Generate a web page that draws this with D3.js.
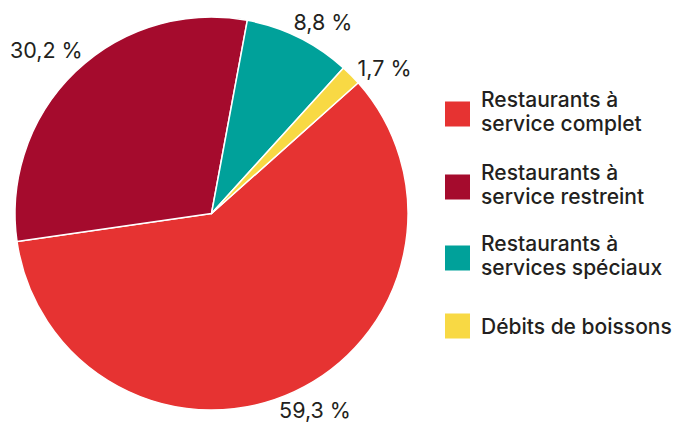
<!DOCTYPE html>
<html>
<head>
<meta charset="utf-8">
<script src="https://cdn.jsdelivr.net/npm/d3@7"></script>
<style>
  html, body { margin: 0; padding: 0; background: #fff; }
  svg text { font-family: Inter, "Noto Sans", sans-serif; fill: #231f20; }
</style>
</head>
<body>
<div id="chart"></div>
<script>
const categories = [
  ["Restaurants à", "service complet"],
  ["Restaurants à", "service restreint"],
  ["Restaurants à", "services spéciaux"],
  ["Débits de boissons"]
];
const values = [59.3, 30.2, 8.8, 1.7];
const valueLabels = ["59,3 %", "30,2 %", "8,8 %", "1,7 %"];
const colors = ["#e63332", "#a50b2d", "#00a19a", "#f8d944"];

const width = 675;
const height = 422;

const svg = d3
  .select("#chart")
  .append("svg")
  .attr("width", width)
  .attr("height", height)
  .attr("viewBox", [0, 0, width, height]);

const cx = 211.5;
const cy = 213.5;
const radius = 196.5;

// red slice ends at the left side, just below horizontal
const startAngle = (48.3 * Math.PI) / 180;

const pie = d3
  .pie()
  .sort(null)
  .value((d) => d)
  .startAngle(startAngle)
  .endAngle(startAngle + 2 * Math.PI);

const arcs = pie(values);

const arc = d3.arc().innerRadius(0).outerRadius(radius);
const labelArc = d3.arc().innerRadius(224).outerRadius(224);

// small tweaks so labels sit where the original has them
const labelShift = [
  [9, -7],
  [-10, -2],
  [12, 9],
  [14, 12]
];

const g = svg.append("g").attr("transform", `translate(${cx},${cy})`);

g.selectAll("path")
  .data(arcs)
  .enter()
  .append("path")
  .attr("d", arc)
  .attr("fill", (d, i) => colors[i])
  .attr("stroke", "#fff")
  .attr("stroke-width", 1.5)
  .attr("stroke-linejoin", "round");

g.selectAll("text.value")
  .data(arcs)
  .enter()
  .append("text")
  .attr("class", "value")
  .attr("x", (d, i) => labelArc.centroid(d)[0] + labelShift[i][0])
  .attr("y", (d, i) => labelArc.centroid(d)[1] + labelShift[i][1])
  .attr("text-anchor", "middle")
  .attr("dominant-baseline", "central")
  .attr("font-size", 21.5)
  .text((d, i) => valueLabels[i]);

// --- Legend ---
const legendRows = [114, 187, 258, 326];

const legend = svg
  .append("g")
  .selectAll("g")
  .data(categories)
  .enter()
  .append("g")
  .attr("transform", (d, i) => `translate(445,${legendRows[i]})`);

legend
  .append("rect")
  .attr("x", 0)
  .attr("y", -12.5)
  .attr("width", 25)
  .attr("height", 25)
  .attr("fill", (d, i) => colors[i]);

legend
  .append("text")
  .attr("x", 36)
  .attr("font-size", 21)
  .attr("font-weight", 500)
  .each(function (lines) {
    const t = d3.select(this);
    const first = lines.length === 1 ? 7.5 : -7;
    lines.forEach((line, j) => {
      t.append("tspan")
        .attr("x", 36)
        .attr("y", first + j * 23.5)
        .text(line);
    });
  });
</script>
</body>
</html>
